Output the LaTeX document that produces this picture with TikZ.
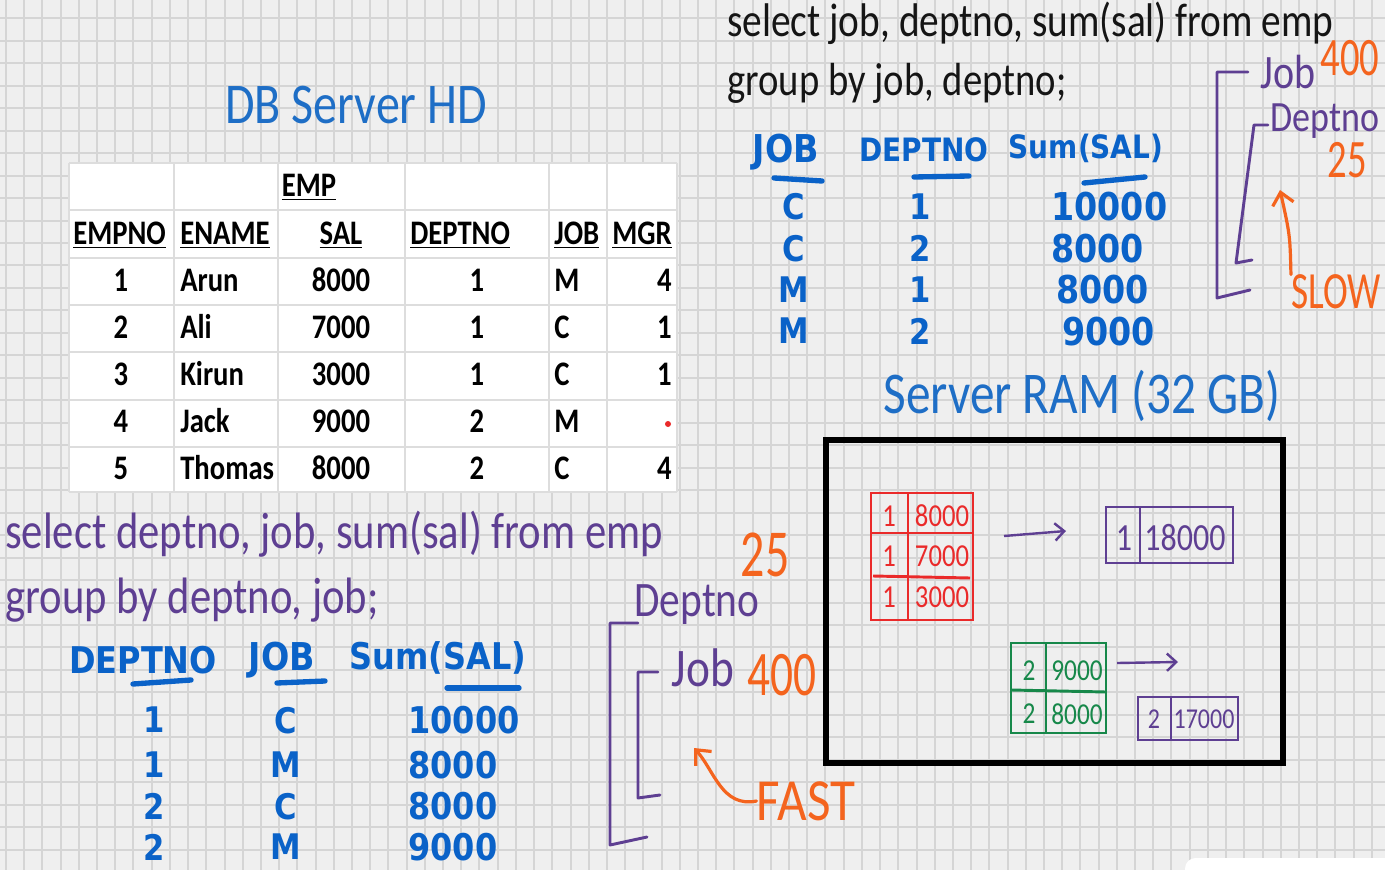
\documentclass[tikz,border=0pt]{standalone}
\usepackage{fontspec}
\usepackage{xcolor}
\usepackage{tikz}
\usetikzlibrary{arrows.meta}

\setmainfont{Carlito}
\newfontfamily\markfont{DejaVu Sans}

\definecolor{paper}{HTML}{EFEFEF}
\definecolor{gridc}{HTML}{D5D5D5}
\definecolor{cellc}{HTML}{DDDDDD}
\definecolor{mkblue}{HTML}{0A62C8}
\definecolor{hdblue}{HTML}{1E6EC6}
\definecolor{ink}{HTML}{151515}
\definecolor{plum}{HTML}{5E3F92}
\definecolor{tang}{HTML}{F4641E}
\definecolor{redpen}{HTML}{EA2A2A}
\definecolor{greenpen}{HTML}{17884A}

\newcommand{\fsz}[1]{\fontsize{#1}{#1}\selectfont}

\begin{document}
\begin{tikzpicture}[x=0.75pt, y=-0.75pt,
  gridline/.style={gridc, line width=1.5pt},
  cellline/.style={cellc, line width=1pt},
  tabtext/.style={font=\bfseries\fsz{21.5}, inner sep=0pt, yscale=1.2, text height=15pt, text depth=3pt},
  hand/.style={inner sep=0pt, yscale=1.2, font=\fsz{#1}},
  note/.style={tang, inner sep=0pt, yscale=1.4, font=\fsz{#1}},
  mk/.style={mkblue, inner sep=0pt, yscale=1.15, font=\markfont\bfseries\fsz{#1}},
  stroke/.style={mkblue, line width=4pt, line cap=round},
  bracket/.style={plum, line width=2.2pt, line join=round, line cap=round},
  penbox/.style={line width=2.2pt},
  curvearrow/.style={tang, line width=2.4pt, line cap=round, -{Straight Barb[length=9pt, width=16pt]}},
  flowarrow/.style={plum, line width=1.8pt, -{Straight Barb[length=7pt, width=13pt]}}
]

\useasboundingbox (0,0) rectangle (1385,870);
\fill[paper] (0,0) rectangle (1385,870);

\foreach \i in {0,...,75} {
  \draw[gridline] ({6+18.21*\i},0) -- ({6+18.21*\i},870);
}
\foreach \j in {0,...,37} {
  \draw[gridline] (0,{18.3+22.47*\j}) -- (1385,{18.3+22.47*\j});
}

\fill[white, rounded corners=8] (1185,858) rectangle (1400,880);

% disk side
\node[hand=36, hdblue] (hdtitle) at (356,105) {DB Server HD};

\fill[white] (69,163) rectangle (677,492);
\foreach \x in {69,174,278,405,549,607,677} {
  \draw[cellline] (\x,163) -- (\x,492);
}
\foreach \y in {163,210,258,305,352,400,447,492} {
  \draw[cellline] (69,\y) -- (677,\y);
}

\node[tabtext] (emp) at (309,187) {\underline{EMP}};
\node[tabtext, anchor=west] (hno) at (73,235) {\underline{EMPNO}};
\node[tabtext, anchor=west] (hname) at (180,235) {\underline{ENAME}};
\node[tabtext] (hsal) at (341,235) {\underline{SAL}};
\node[tabtext, anchor=west] (hdep) at (410,235) {\underline{DEPTNO}};
\node[tabtext, anchor=west] (hjob) at (554,235) {\underline{JOB}};
\node[tabtext, anchor=west] (hmgr) at (612,235) {\underline{MGR}};

\foreach \no/\nm/\sal/\dep/\job/\mgr [count=\r] in
  {1/Arun/8000/1/M/4, 2/Ali/7000/1/C/1, 3/Kirun/3000/1/C/1, 4/Jack/9000/2/M/{}, 5/Thomas/8000/2/C/4} {
  \pgfmathsetmacro{\ry}{235+47*\r}
  \node[tabtext] (no\r) at (121,\ry) {\no};
  \node[tabtext, anchor=west] (nm\r) at (180,\ry) {\nm};
  \node[tabtext] (sal\r) at (341,\ry) {\sal};
  \node[tabtext] (dep\r) at (477,\ry) {\dep};
  \node[tabtext, anchor=west] (job\r) at (554,\ry) {\job};
  \node[tabtext, anchor=east] (mgr\r) at (672,\ry) {\mgr};
}
\fill[redpen] (668,424) circle (3);

% job, deptno
\node[hand=29.5, ink, anchor=west] (sqlone) at (727,23) {select job, deptno, sum(sal) from emp};
\node[hand=29, ink, anchor=west] (sqlonegrp) at (727,83) {group by job, deptno;};

\node[mk=25] (tjob) at (786,152) {JOB};
\node[mk=21] (tdep) at (924,150) {DEPTNO};
\node[mk=21] (tsum) at (1086,148) {Sum(SAL)};
\draw[stroke] (774,178) -- (822,181);
\draw[stroke] (914,177) -- (969,176);
\draw[stroke] (1084,183) -- (1145,177);

\foreach \jb/\dp/\sm/\sx [count=\r] in {C/1/10000/1051, C/2/8000/1051, M/1/8000/1056, M/2/9000/1062} {
  \pgfmathsetmacro{\ry}{165+41.5*\r}
  \node[mk=23] (tj\r) at (794,\ry) {\jb};
  \node[mk=23] (td\r) at (920,\ry) {\dp};
  \node[mk=25, anchor=west] (ts\r) at (\sx,\ry) {\sm};
}

\draw[bracket] (1248,72) -- (1217,72) -- (1217,298) -- (1250,290);
\draw[bracket] (1268,125) -- (1254,125) -- (1236,263) -- (1252,260);
\node[hand=30, plum] (slowjob) at (1288,72) {Job};
\node[note=29] (slowjobn) at (1350,58) {400};
\node[hand=27, plum] (slowdep) at (1325,121) {Deptno};
\node[note=29] (slowdepn) at (1347,160) {25};
\node[note=28] (slow) at (1336,292) {SLOW};
\coordinate (slowtip) at (1280,190);
\draw[curvearrow] (slow.north west) .. controls (1290,235) .. (slowtip);

% deptno, job
\node[hand=32, plum, anchor=west] (sqltwo) at (5,534) {select deptno, job, sum(sal) from emp};
\node[hand=32, plum, anchor=west] (sqltwogrp) at (5,600) {group by deptno, job;};

\node[mk=24] (bdep) at (143,660) {DEPTNO};
\node[mk=25] (bjob) at (282,660) {JOB};
\node[mk=24] (bsum) at (438,658) {Sum(SAL)};
\draw[stroke] (133,684) -- (191,680);
\draw[stroke] (277,683) -- (325,681);
\draw[stroke] (447,688) -- (519,688);

\foreach \dp/\jb/\sm/\sy [count=\r] in {1/C/10000/720, 1/M/8000/765, 2/C/8000/806, 2/M/9000/847} {
  \node[mk=23] (bd\r) at (154,\sy) {\dp};
  \node[mk=23] (bj\r) at (286,\sy) {\jb};
  \node[mk=24, anchor=west] (bs\r) at (408,\sy) {\sm};
}

\draw[bracket] (638,623) -- (610,623) -- (610,845) -- (647,837);
\draw[bracket] (658,672) -- (638,672) -- (638,798) -- (660,795);
\node[note=36] (fastdepn) at (765,555) {25};
\node[hand=31, plum] (fastdep) at (697,605) {Deptno};
\node[hand=34, plum] (fastjob) at (703,668) {Job};
\node[note=34] (fastjobn) at (782,675) {400};
\node[note=32, xscale=1.2] (fast) at (806,801) {FAST};
\coordinate (fasttip) at (694,748);
\draw[curvearrow] (fast.west) .. controls (722,808) and (714,770) .. (fasttip);

% ram side
\node[hand=37, hdblue] (ramtitle) at (1082,396) {Server RAM (32 GB)};
\draw[line width=4.5pt] (826,440) rectangle (1283,763);

\draw[penbox, redpen] (871,493) rectangle (973,620);
\draw[penbox, redpen] (908,493) -- (908,620);
\draw[penbox, redpen] (871,533) -- (973,533);
\draw[penbox, redpen] (873,576) -- (970,578);
\foreach \v/\sy [count=\r] in {8000/516, 7000/556, 3000/597} {
  \node[hand=20, redpen] (rd\r) at (889,\sy) {1};
  \node[hand=20, redpen] (rs\r) at (942,\sy) {\v};
}

\draw[penbox, plum] (1106,507) rectangle (1233,563);
\draw[penbox, plum] (1140,507) -- (1140,563);
\node[hand=24, plum] (sumone) at (1124,538) {1};
\node[hand=24, plum] (sumonev) at (1185,538) {18000};

\draw[penbox, greenpen] (1011,643) rectangle (1106,733);
\draw[penbox, greenpen] (1046,643) -- (1046,733);
\draw[penbox, greenpen] (1011,690) -- (1106,692);
\foreach \v/\sy [count=\r] in {9000/671, 8000/714} {
  \node[hand=19, greenpen] (gd\r) at (1029,\sy) {2};
  \node[hand=19, greenpen] (gs\r) at (1077,\sy) {\v};
}

\draw[penbox, plum] (1138,697) rectangle (1238,740);
\draw[penbox, plum] (1171,697) -- (1171,740);
\node[hand=18, plum] (sumtwo) at (1154,719) {2};
\node[hand=18, plum] (sumtwov) at (1204,719) {17000};

\coordinate (redout) at (1004,536);
\coordinate (sumonein) at (1066,531);
\coordinate (greenout) at (1117,663);
\coordinate (sumtwoin) at (1178,662);
\draw[flowarrow] (redout) -- (sumonein);
\draw[flowarrow] (greenout) -- (sumtwoin);

\end{tikzpicture}
\end{document}
